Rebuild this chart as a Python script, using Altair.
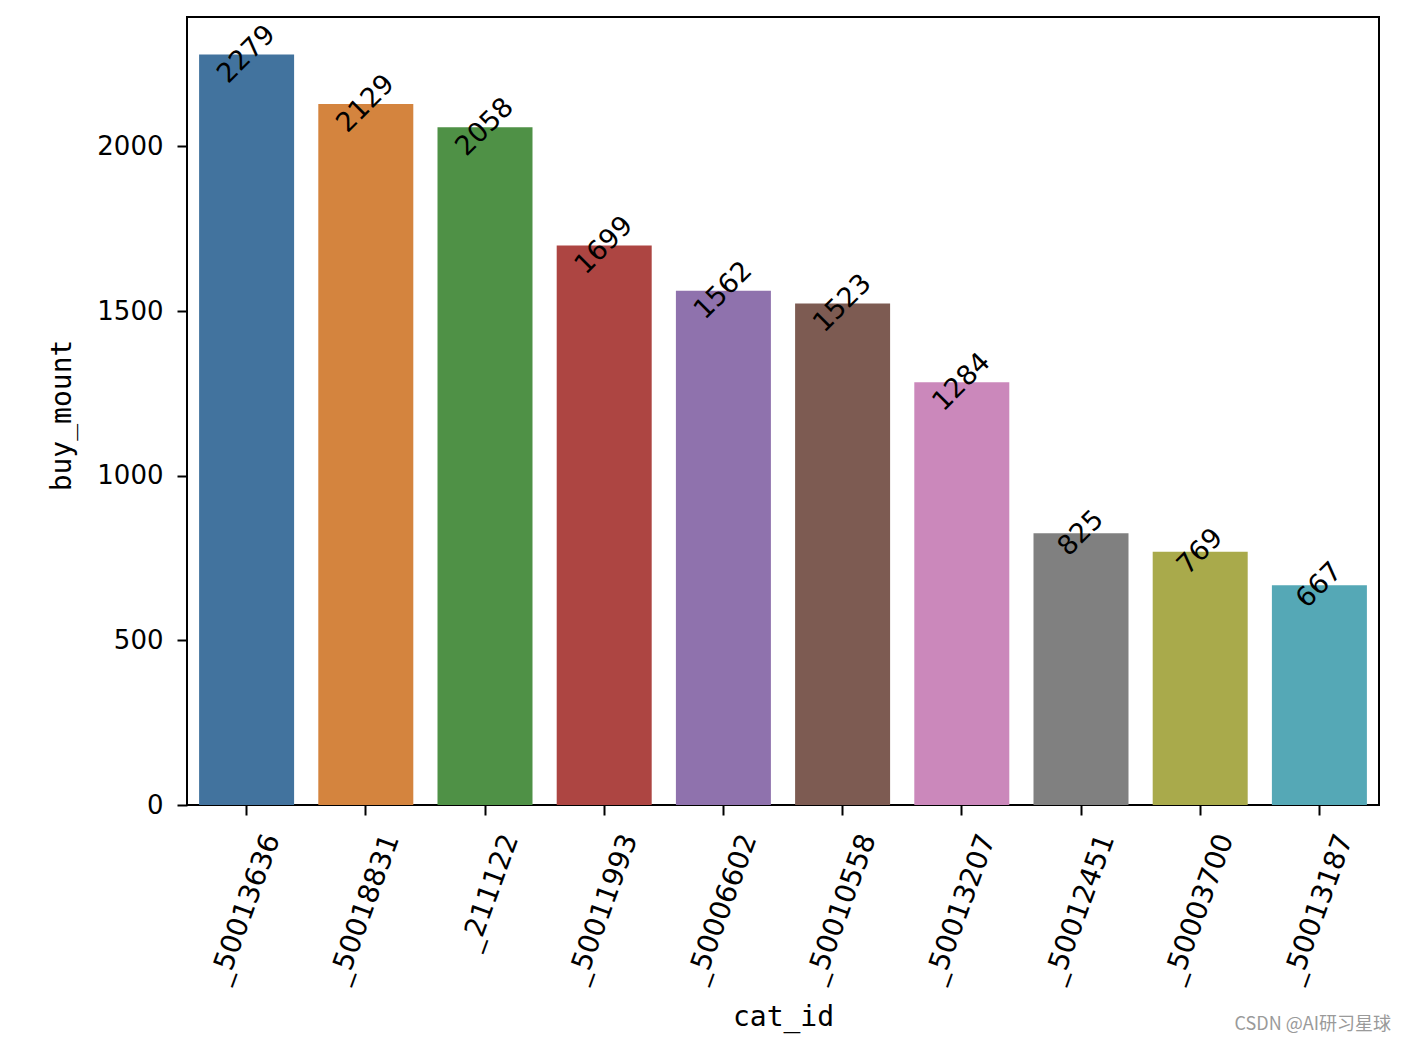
import altair as alt
import pandas as pd

cat_ids = ["_50013636", "_50018831", "_211122", "_50011993", "_50006602",
           "_50010558", "_50013207", "_50012451", "_50003700", "_50013187"]
buy_mount = [2279, 2129, 2058, 1699, 1562, 1523, 1284, 825, 769, 667]
colors = ["#42739e", "#d4843e", "#4f9146", "#ad4542", "#8f72ad",
          "#7d5b52", "#cb88bb", "#808080", "#a9aa4b", "#55a8b6"]
y_ticks = [0, 500, 1000, 1500, 2000]

df = pd.DataFrame({"cat_id": cat_ids, "buy_mount": buy_mount, "color": colors})

W, H = 1192, 788
FONT = "DejaVu Sans"

x = alt.X(
    "cat_id:N", sort=cat_ids,
    scale=alt.Scale(paddingInner=0.2, paddingOuter=0.1),
    axis=alt.Axis(
        title="cat_id", labelAngle=-70, labelAlign="right", labelBaseline="middle",
        labelOffset=26, labelPadding=20, labelFontSize=28, labelFont=FONT, labelColor="black",
        tickSize=10, tickWidth=2, tickColor="black", domain=False,
        titleFont="DejaVu Sans Mono", titleFontSize=28, titleFontWeight="normal",
        titleColor="black", titleY=212, titleBaseline="middle",
    ),
)
y = alt.Y(
    "buy_mount:Q",
    scale=alt.Scale(domain=[0, 2392.95], nice=False, zero=True),
    axis=alt.Axis(
        title="buy_mount", values=y_ticks, format="d", grid=False, labelFontSize=26,
        labelFont=FONT, labelColor="black", labelPadding=14, tickSize=10, tickWidth=2,
        tickColor="black", domain=False, titleFont="DejaVu Sans Mono", titleFontSize=28,
        titleFontWeight="normal", titleColor="black", titleX=-125, titleY=H / 2 + 4,
        titleAngle=-90, titleBaseline="middle", titleAlign="center",
    ),
)

bars = alt.Chart(df).mark_bar(size=95).encode(
    x=x, y=y, color=alt.Color("color:N", scale=None)
)

labels = alt.Chart(df).mark_text(
    angle=315, align="center", baseline="middle", fontSize=27, font=FONT, color="black"
).encode(
    x=alt.X("cat_id:N", sort=cat_ids),
    y="buy_mount:Q",
    text="buy_mount:Q",
)

wm_df = pd.DataFrame({"t": ["CSDN @AI研习星球"]})
watermark = alt.Chart(wm_df).mark_text(
    align="right", baseline="middle", fontSize=18, font="Noto Sans CJK SC", color="#9a9a9a"
).encode(text="t:N", x=alt.value(1391 - 187), y=alt.value(1025 - 17))

chart = alt.layer(bars, labels, watermark).properties(
    width=W, height=H,
    background="white",
    autosize=alt.AutoSizeParams(type="none"),
    padding={"left": 187, "top": 17, "right": 27, "bottom": 239},
).configure_view(
    stroke="black", strokeWidth=2
)

chart.save("out.html", embed_options={"renderer": "svg", "actions": False})
